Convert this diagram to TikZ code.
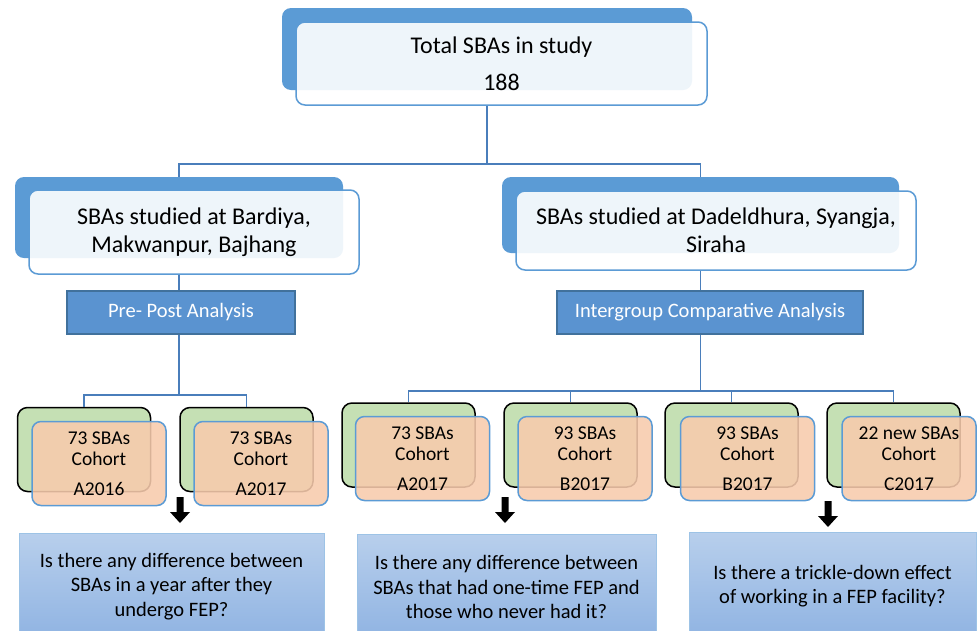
\documentclass[tikz,border=0pt]{standalone}
\usepackage{fontspec}
\setmainfont{Carlito}
\definecolor{sbablue}{HTML}{5B9BD5}
\definecolor{analfill}{HTML}{5A93D0}
\definecolor{analborder}{HTML}{41719C}
\definecolor{connblue}{HTML}{4A7EBB}
\definecolor{grnfill}{HTML}{C5E0B4}
\definecolor{orgfill}{HTML}{F8CBAD}
\definecolor{qtop}{HTML}{B8CFEC}
\definecolor{qbot}{HTML}{8FB3E2}
\definecolor{qborder}{HTML}{9DC3E6}
\tikzset{
  backbox/.style={fill=sbablue, rounded corners=9pt, inner sep=0pt},
  frontbox/.style={draw=sbablue, line width=1.5pt, fill=white, fill opacity=0.9, text opacity=1,
    rounded corners=9pt, align=center, inner sep=0pt, font=\fontsize{24}{28}\selectfont},
  analbox/.style={draw=analborder, fill=analfill, line width=1.2pt, text=white, inner sep=0pt,
    minimum height=43pt, font=\fontsize{20.5}{24}\selectfont},
  grnbox/.style={draw=black, line width=1.5pt, fill=grnfill, rounded corners=10pt,
    minimum width=133pt, minimum height=84pt, inner sep=0pt},
  orgbox/.style={draw=sbablue, line width=1.5pt, fill=orgfill, fill opacity=0.88, text opacity=1,
    rounded corners=9pt, minimum width=134pt, minimum height=84pt, inner sep=0pt, align=center,
    font=\fontsize{19.5}{21}\selectfont},
  qbox/.style={draw=qborder, line width=1pt, top color=qtop, bottom color=qbot, align=center,
    inner sep=0pt, font=\fontsize{20.5}{24.5}\selectfont},
  conn/.style={draw=connblue, line width=1.5pt},
  downarrow/.pic={\fill[black] (-3.5,0) -- (3.5,0) -- (3.5,15) -- (10,15) -- (0,26) -- (-10,15) -- (-3.5,15) -- cycle;}
}
\begin{document}
\begin{tikzpicture}[x=1pt,y=-1pt]
\useasboundingbox (0,0) rectangle (977,630);
\fill[white] (0,0) rectangle (977,630);

% top
\node[backbox, minimum width=410pt, minimum height=82pt] (topback) at (487,49) {};
\node[frontbox, minimum width=411pt, minimum height=83pt, font=\fontsize{24}{37}\selectfont] (topfront) at (501.5,63.5) {Total SBAs in study\\188};

% middle
\node[backbox, minimum width=328pt, minimum height=81pt] (leftback) at (179,217.5) {};
\node[frontbox, minimum width=330pt, minimum height=84pt] (leftfront) at (194,232) {SBAs studied at Bardiya,\\Makwanpur, Bajhang};
\node[backbox, minimum width=397pt, minimum height=76pt] (rightback) at (700.5,215) {};
\node[frontbox, minimum width=400pt, minimum height=79pt] (rightfront) at (716,230.5) {SBAs studied at Dadeldhura, Syangja,\\Siraha};

\node[analbox, minimum width=228pt] (prepost) at (181,312.5) {Pre- Post Analysis};
\node[analbox, minimum width=306pt] (inter) at (710,312.5) {Intergroup Comparative Analysis};

% cohorts
\node[grnbox] (g1) at (84,449.5) {};
\node[orgbox] (o1) at (99,463.5) {73 SBAs\\Cohort\\[9pt]A2016};
\node[grnbox] (g2) at (246.5,449.5) {};
\node[orgbox] (o2) at (261,463.5) {73 SBAs\\Cohort\\[9pt]A2017};

\node[grnbox] (g3) at (408.5,445) {};
\node[orgbox] (o3) at (422.5,458.5) {73 SBAs\\Cohort\\[9pt]A2017};
\node[grnbox] (g4) at (570.5,445) {};
\node[orgbox] (o4) at (585,458.5) {93 SBAs\\Cohort\\[9pt]B2017};
\node[grnbox] (g5) at (731.5,445) {};
\node[orgbox] (o5) at (747.5,458.5) {93 SBAs\\Cohort\\[9pt]B2017};
\node[grnbox] (g6) at (893.5,445) {};
\node[orgbox] (o6) at (909,458.5) {22 new SBAs\\Cohort\\[9pt]C2017};

% questions
\node[qbox, minimum width=305pt, minimum height=107pt] (q1) at (171.5,586.5) {Is there any difference between\\SBAs in a year after they\\undergo FEP?};
\node[qbox, minimum width=299pt, minimum height=106pt] (q2) at (506.5,587) {Is there any difference between\\SBAs that had one-time FEP and\\those who never had it?};
\node[qbox, minimum width=287pt, minimum height=108pt] (q3) at (832.5,586) {Is there a trickle-down effect\\of working in a FEP facility?};

% arrows
\pic at (180,497) {downarrow};
\pic at (505,497) {downarrow};
\pic at (828,501) {downarrow};

% connectors
\coordinate (s1) at (487,164);
\draw[conn] (topback.center |- topfront.south) -- (s1);
\draw[conn] (s1) -| (leftback.north);
\draw[conn] (s1) -| (rightback.north);

\draw[conn] (leftback.center |- leftfront.south) -- (leftback.center |- prepost.north);
\coordinate (s2) at (179,395);
\draw[conn] (leftback.center |- prepost.south) -- (s2);
\draw[conn] (s2) -| (g1.north);
\draw[conn] (s2) -| (g2.north);

\draw[conn] (rightback.center |- rightfront.south) -- (rightback.center |- inter.north);
\coordinate (s3) at (700.5,391);
\draw[conn] (rightback.center |- inter.south) -- (s3);
\draw[conn] (s3) -| (g3.north);
\draw[conn] (s3) -| (g4.north);
\draw[conn] (s3) -| (g5.north);
\draw[conn] (s3) -| (g6.north);
\end{tikzpicture}
\end{document}
